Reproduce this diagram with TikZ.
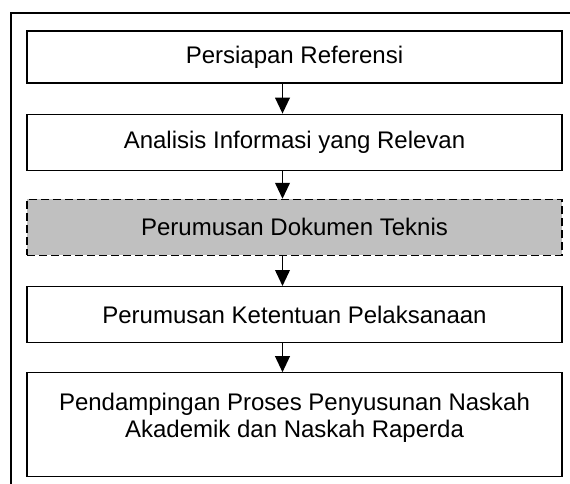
\documentclass[tikz,border=0pt]{standalone}
\usepackage{fontspec}
\setmainfont{Liberation Sans}
\usetikzlibrary{arrows.meta,positioning}
\usepackage{xcolor}
\definecolor{ink}{HTML}{000000}
\definecolor{shade}{HTML}{C0C0C0}
\tikzset{
  base/.style={font=\fontsize{18}{20.3}\selectfont,align=center,draw=ink,line width=0.9pt,fill=white,minimum width=401.25pt,minimum height=42pt,inner sep=0pt},
  stage/.style={base},
  draft/.style={base,fill=shade,dashed,dash pattern=on 6pt off 3pt},
  tall/.style={base,minimum height=78pt,text height=48.5pt,text depth=29.5pt},
  flow/.style={-{Triangle[length=12pt,width=11pt]},line width=1.3pt,draw=ink},
  frame/.style={draw=ink,line width=1pt}
}
\begin{document}
\begin{tikzpicture}
\useasboundingbox (0,0) rectangle (427.5pt,-362.25pt);
% outer frame, only top and left are visible
\coordinate (fa) at (8.25pt,-365pt);
\coordinate (fb) at (8.25pt,-9.75pt);
\coordinate (fc) at (430pt,-9.75pt);
\draw[frame] (fa) -- (fb) -- (fc);
% stages
\node[stage,minimum height=39pt] (ref) at (220.875pt,-42.75pt) {Persiapan Referensi};
\node[stage,below=22.5pt of ref] (info) {Analisis Informasi yang Relevan};
\node[draft,below=21pt of info] (tek) {Perumusan Dokumen Teknis};
\node[stage,below=22.5pt of tek] (kete) {Perumusan Ketentuan Pelaksanaan};
\node[tall,below=21.75pt of kete] (pend) {Pendampingan Proses Penyusunan Naskah\\Akademik dan Naskah Raperda};
% arrows
\draw[flow] ([xshift=-9pt]ref.south) -- ([xshift=-9pt]info.north);
\draw[flow] ([xshift=-9pt]info.south) -- ([xshift=-9pt]tek.north);
\draw[flow] ([xshift=-9pt]tek.south) -- ([xshift=-9pt]kete.north);
\draw[flow] ([xshift=-9pt]kete.south) -- ([xshift=-9pt]pend.north);
\end{tikzpicture}
\end{document}
